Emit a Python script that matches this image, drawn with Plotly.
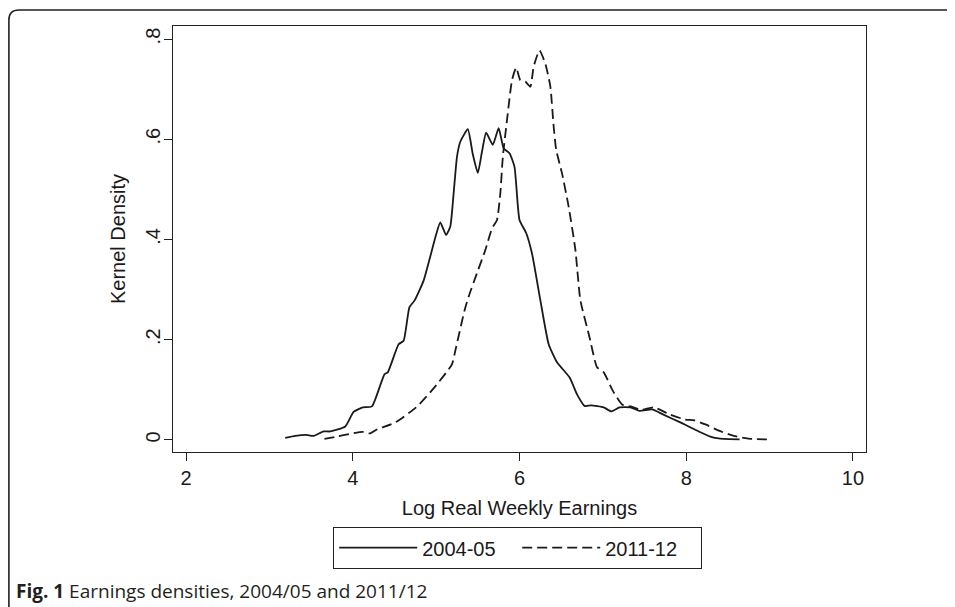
import plotly.graph_objects as go

# ---- data ----
x_0405 = [3.19, 3.31, 3.44, 3.53, 3.65, 3.73, 3.91, 4.01, 4.12, 4.23, 4.38, 4.42, 4.55, 4.61,
          4.68, 4.74, 4.85, 4.92, 5.00, 5.05, 5.12, 5.17, 5.21, 5.25, 5.29, 5.38, 5.44, 5.50,
          5.55, 5.60, 5.68, 5.75, 5.81, 5.88, 5.94, 6.00, 6.08, 6.15, 6.25, 6.35, 6.45, 6.60,
          6.69, 6.78, 6.86, 7.01, 7.10, 7.20, 7.33, 7.44, 7.59, 7.72, 7.93, 8.15, 8.32, 8.45, 8.64]
y_0405 = [0.004, 0.008, 0.010, 0.008, 0.017, 0.017, 0.027, 0.056, 0.065, 0.067, 0.131, 0.135, 0.191, 0.198,
          0.265, 0.278, 0.318, 0.360, 0.410, 0.434, 0.409, 0.426, 0.492, 0.565, 0.595, 0.620, 0.570, 0.533,
          0.575, 0.613, 0.589, 0.622, 0.582, 0.572, 0.545, 0.439, 0.413, 0.372, 0.279, 0.191, 0.155, 0.125,
          0.091, 0.068, 0.069, 0.065, 0.057, 0.065, 0.065, 0.058, 0.061, 0.051, 0.035, 0.017, 0.005, 0.002, 0.001]

x_1112 = [3.66, 3.82, 3.99, 4.12, 4.21, 4.29, 4.51, 4.76, 4.98, 5.19, 5.23, 5.34, 5.39, 5.49, 5.59,
          5.67, 5.73, 5.77, 5.80, 5.85, 5.91, 5.96, 6.01, 6.07, 6.13, 6.17, 6.24, 6.31, 6.37, 6.41,
          6.44, 6.51, 6.59, 6.67, 6.73, 6.84, 6.93, 7.01, 7.12, 7.23, 7.33, 7.46, 7.61, 7.80, 7.98,
          8.10, 8.23, 8.40, 8.57, 8.79, 9.02]
y_1112 = [0.002, 0.007, 0.013, 0.016, 0.013, 0.021, 0.035, 0.065, 0.105, 0.151, 0.178, 0.258, 0.286, 0.333, 0.379,
          0.422, 0.439, 0.492, 0.565, 0.638, 0.718, 0.743, 0.718, 0.715, 0.705, 0.745, 0.777, 0.751, 0.705, 0.625,
          0.579, 0.532, 0.465, 0.380, 0.279, 0.205, 0.145, 0.135, 0.098, 0.071, 0.067, 0.060, 0.065, 0.051, 0.041,
          0.039, 0.031, 0.018, 0.008, 0.002, 0.001]

series_names = ["2004-05", "2011-12"]
x_ticks = [2, 4, 6, 8, 10]
x_tick_labels = ["2", "4", "6", "8", "10"]
y_ticks = [0, 0.2, 0.4, 0.6, 0.8]
y_tick_labels = ["0", ".2", ".4", ".6", ".8"]
x_title = "Log Real Weekly Earnings"
y_title = "Kernel Density"
caption = "<b>Fig. 1</b> Earnings densities, 2004/05 and 2011/12"

# ---- layout geometry ----
# The page body has an 8px margin, so the figure is drawn 8px smaller and all
# page-pixel positions below are shifted by OFF.
OFF = 8
PAGE_W, PAGE_H = 955, 607
W, H = PAGE_W - OFF, PAGE_H - OFF
L, R, T, B = 173 - OFF, 866 - OFF, 26 - OFF, 452 - OFF
FONT = "Liberation Sans, Arial, sans-serif"
INK = "#1a1a1a"


def px_to_paper(px, py):
    """figure-pixel -> paper coordinates"""
    return (px - L) / (R - L), (B - py) / (B - T)


fig = go.Figure()
fig.add_trace(go.Scatter(x=x_0405, y=y_0405, mode="lines", name=series_names[0],
                         line=dict(color=INK, width=1.8, shape="spline", smoothing=0.5)))
fig.add_trace(go.Scatter(x=x_1112, y=y_1112, mode="lines", name=series_names[1],
                         line=dict(color=INK, width=1.8, shape="spline", smoothing=0.5, dash="10px,5px")))

# outer rounded frame (top-left corner of the figure panel)
fx, fy, rad = 0.9, 2.0, 10
x0, y0 = px_to_paper(fx, H + 5)
x1, y1 = px_to_paper(fx, fy + rad)
xr, yt = px_to_paper(fx + rad, fy)
xe, _ = px_to_paper(W + 5, fy)
fig.add_shape(type="path", xref="paper", yref="paper",
              path=f"M {x0},{y0} L {x1},{y1} Q {x1},{yt} {xr},{yt} L {xe},{yt}",
              line=dict(color="#222", width=1.6))

cx, cy = px_to_paper(14 - OFF, 591 - OFF)
fig.add_annotation(text=caption, xref="paper", yref="paper", x=cx, y=cy,
                   xanchor="left", yanchor="middle", showarrow=False,
                   font=dict(family="Open Sans, sans-serif", size=19, color="#231f20"))

lx, ly = px_to_paper(517.5 - OFF, 527 - OFF)

fig.update_layout(
    width=W, height=H,
    margin=dict(l=L, r=W - R, t=T, b=H - B, autoexpand=False),
    paper_bgcolor="white", plot_bgcolor="white",
    font=dict(family=FONT, size=20, color=INK),
    showlegend=True,
    legend=dict(orientation="h", x=lx, y=ly, xanchor="center", yanchor="top",
                bordercolor="#222", borderwidth=1.2, bgcolor="white",
                itemwidth=78, entrywidth=90, entrywidthmode="pixels",
                font=dict(family=FONT, size=20, color=INK),
                tracegroupgap=0),
    xaxis=dict(range=[1.844, 10.156], tickvals=x_ticks, ticktext=x_tick_labels,
               showgrid=False, zeroline=False, ticks="outside", ticklen=8, tickwidth=1.2,
               tickcolor="#222", showline=True, linecolor="#222", linewidth=1.2, mirror=True,
               title=dict(text=x_title, standoff=12, font=dict(size=20))),
    yaxis=dict(range=[-0.024, 0.826], tickvals=y_ticks, ticktext=y_tick_labels,
               tickangle=-90, ticklabelstandoff=-4,
               showgrid=False, zeroline=False, ticks="outside", ticklen=8, tickwidth=1.2,
               tickcolor="#222", showline=True, linecolor="#222", linewidth=1.2, mirror=True,
               title=dict(text=y_title, standoff=10, font=dict(size=20))),
)

fig.write_html("out.html")
